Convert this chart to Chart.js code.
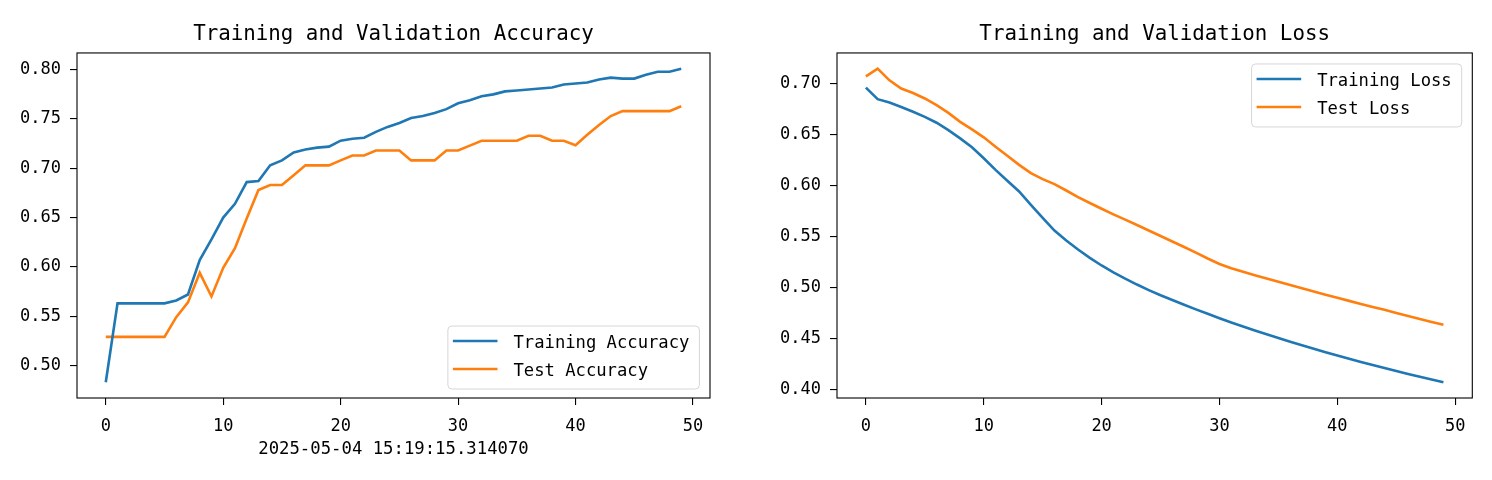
<!DOCTYPE html>
<html>
<head>
<meta charset="utf-8">
<script src="https://cdn.jsdelivr.net/npm/chart.js@4.4.1/dist/chart.umd.min.js"></script>
<style>
body{margin:0;background:#fff;}
.box{position:absolute;top:0;width:746px;height:480px;}
</style>
</head>
<body>
<div class="box" style="left:0"><canvas id="accChart"></canvas></div>
<div class="box" style="left:746px"><canvas id="lossChart"></canvas></div>
<script>
// data
let epochs = Array.from({length: 50}, (_, i) => i);

let trainAcc = [0.483, 0.563, 0.563, 0.563, 0.563, 0.563, 0.566, 0.572, 0.607, 0.628,
                0.650, 0.664, 0.686, 0.687, 0.703, 0.708, 0.716, 0.719, 0.721, 0.722,
                0.728, 0.730, 0.731, 0.737, 0.742, 0.746, 0.751, 0.753, 0.756, 0.760,
                0.766, 0.769, 0.773, 0.775, 0.778, 0.779, 0.780, 0.781, 0.782, 0.785,
                0.786, 0.787, 0.790, 0.792, 0.791, 0.791, 0.795, 0.798, 0.798, 0.801];
let testAcc = [0.529, 0.529, 0.529, 0.529, 0.529, 0.529, 0.549, 0.564, 0.594, 0.570,
               0.599, 0.619, 0.649, 0.678, 0.683, 0.683, 0.693, 0.703, 0.703, 0.703,
               0.708, 0.713, 0.713, 0.718, 0.718, 0.718, 0.708, 0.708, 0.708, 0.718,
               0.718, 0.723, 0.728, 0.728, 0.728, 0.728, 0.733, 0.733, 0.728, 0.728,
               0.7235, 0.734, 0.744, 0.753, 0.758, 0.758, 0.758, 0.758, 0.758, 0.763];

let trainLoss = [0.6960, 0.6847, 0.6815, 0.6770, 0.6723, 0.6674, 0.6616, 0.6544, 0.6463, 0.6375,
                 0.6268, 0.6154, 0.6047, 0.5942, 0.5812, 0.5683, 0.5559, 0.5461, 0.5373, 0.5292,
                 0.5217, 0.5150, 0.5088, 0.5030, 0.4976, 0.4925, 0.4878, 0.4832, 0.4787, 0.4743,
                 0.4700, 0.4659, 0.4619, 0.4580, 0.4542, 0.4505, 0.4470, 0.4435, 0.4401, 0.4367,
                 0.4334, 0.4303, 0.4272, 0.4242, 0.4212, 0.4183, 0.4154, 0.4126, 0.4099, 0.4072];
let testLoss = [0.7070, 0.7146, 0.7032, 0.6951, 0.6908, 0.6854, 0.6788, 0.6713, 0.6625, 0.6551,
                0.6473, 0.6381, 0.6293, 0.6203, 0.6122, 0.6063, 0.6014, 0.5952, 0.5887, 0.5829,
                0.5773, 0.5718, 0.5666, 0.5614, 0.5560, 0.5506, 0.5452, 0.5398, 0.5343, 0.5285,
                0.5232, 0.5190, 0.5155, 0.5122, 0.5090, 0.5058, 0.5025, 0.4993, 0.4962, 0.4931,
                0.4900, 0.4870, 0.4840, 0.4811, 0.4782, 0.4752, 0.4722, 0.4693, 0.4664, 0.4636];

let epochTicks = [0, 10, 20, 30, 40, 50];
let accTicks = [0.50, 0.55, 0.60, 0.65, 0.70, 0.75, 0.80];
let lossTicks = [0.40, 0.45, 0.50, 0.55, 0.60, 0.65, 0.70];
let stamp = '2025-05-04 15:19:15.314070';

let blue = '#1f77b4';
let orange = '#ff7f0e';
let mono = '"DejaVu Sans Mono", monospace';

Chart.defaults.font.family = mono;
Chart.defaults.color = '#000';

// black box round the plot area
const frame = {
    id: 'frame',
    afterDatasetsDraw(chart){
        let {ctx, chartArea: a} = chart;
        ctx.save();
        ctx.strokeStyle = '#000';
        ctx.lineWidth = 1.1;
        ctx.strokeRect(a.left, a.top, a.right - a.left, a.bottom - a.top);
        ctx.restore();
    }
};

// legend drawn inside the plot, matplotlib style
const boxLegend = {
    id: 'boxLegend',
    afterDraw(chart, args, opts){
        let {ctx, chartArea: a} = chart;
        let sets = chart.data.datasets;
        ctx.save();
        ctx.font = '17.2px ' + mono;
        let textW = Math.max(...sets.map(d => ctx.measureText(d.label).width));
        let w = 5 + 44.6 + 16 + textW + 10;
        let h = 15 + 28 * (sets.length - 1) + 20;
        let x = a.right - 10.6 - w;
        let y = opts.corner == 'lower' ? a.bottom - 9 - h : a.top + 11;
        ctx.beginPath();
        ctx.roundRect(x, y, w, h, 4);
        ctx.fillStyle = 'rgba(255,255,255,0.8)';
        ctx.fill();
        ctx.strokeStyle = '#d6d6d6';
        ctx.lineWidth = 1;
        ctx.stroke();
        sets.forEach((d, i) => {
            let ry = y + 15 + 28 * i;
            ctx.strokeStyle = d.borderColor;
            ctx.lineWidth = 2.6;
            ctx.beginPath();
            ctx.moveTo(x + 5, ry);
            ctx.lineTo(x + 49.6, ry);
            ctx.stroke();
            ctx.fillStyle = '#000';
            ctx.textBaseline = 'alphabetic';
            ctx.fillText(d.label, x + 65.6, ry + 7);
        });
        ctx.restore();
    }
};

function points(arr){
    return epochs.map((e, i) => ({x: e, y: arr[i]}));
}

function lineSet(label, arr, color){
    return {label: label, data: points(arr), borderColor: color, backgroundColor: color,
            borderWidth: 2.6, pointRadius: 0, tension: 0};
}

function makeChart(el, title, sets, yMin, yMax, yTicks, yWidth, rightPad, corner, xTitle){
    let tickGrid = {drawOnChartArea: false, tickLength: 7, color: '#000', lineWidth: 1.1};
    return new Chart(el, {
        type: 'line',
        data: {datasets: sets},
        plugins: [frame, boxLegend],
        options: {
            animation: false,
            responsive: true,
            maintainAspectRatio: false,
            layout: {padding: {left: 0, right: rightPad, top: 0, bottom: 0}},
            plugins: {
                legend: {display: false},
                tooltip: {enabled: false},
                title: {display: true, text: title, fullSize: false, color: '#000',
                        font: {size: 20.8, weight: 'normal', lineHeight: 1.2},
                        padding: {top: 22.5, bottom: 5.5}},
                boxLegend: {corner: corner}
            },
            scales: {
                x: {
                    type: 'linear', min: -2.45, max: 51.45,
                    afterBuildTicks: s => { s.ticks = epochTicks.map(v => ({value: v})); },
                    afterFit: s => { s.height = 82; },
                    grid: tickGrid,
                    border: {display: false},
                    ticks: {padding: 11, color: '#000', font: {size: 17}},
                    title: {display: !!xTitle, text: xTitle, color: '#000',
                            font: {size: 17.3, lineHeight: 1.2}, padding: {top: 0, bottom: 20}}
                },
                y: {
                    min: yMin, max: yMax,
                    afterBuildTicks: s => { s.ticks = yTicks.map(v => ({value: v})); },
                    afterFit: s => { s.width = yWidth; },
                    grid: tickGrid,
                    border: {display: false},
                    ticks: {padding: 9, color: '#000', font: {size: 17}, callback: v => v.toFixed(2)}
                }
            }
        }
    });
}

makeChart(document.getElementById('accChart'), 'Training and Validation Accuracy',
    [lineSet('Training Accuracy', trainAcc, blue), lineSet('Test Accuracy', testAcc, orange)],
    0.467, 0.817, accTicks, 77, 36, 'lower', stamp);

makeChart(document.getElementById('lossChart'), 'Training and Validation Loss',
    [lineSet('Training Loss', trainLoss, blue), lineSet('Test Loss', testLoss, orange)],
    0.3918, 0.73, lossTicks, 91, 19.7, 'upper', '');
</script>
</body>
</html>
